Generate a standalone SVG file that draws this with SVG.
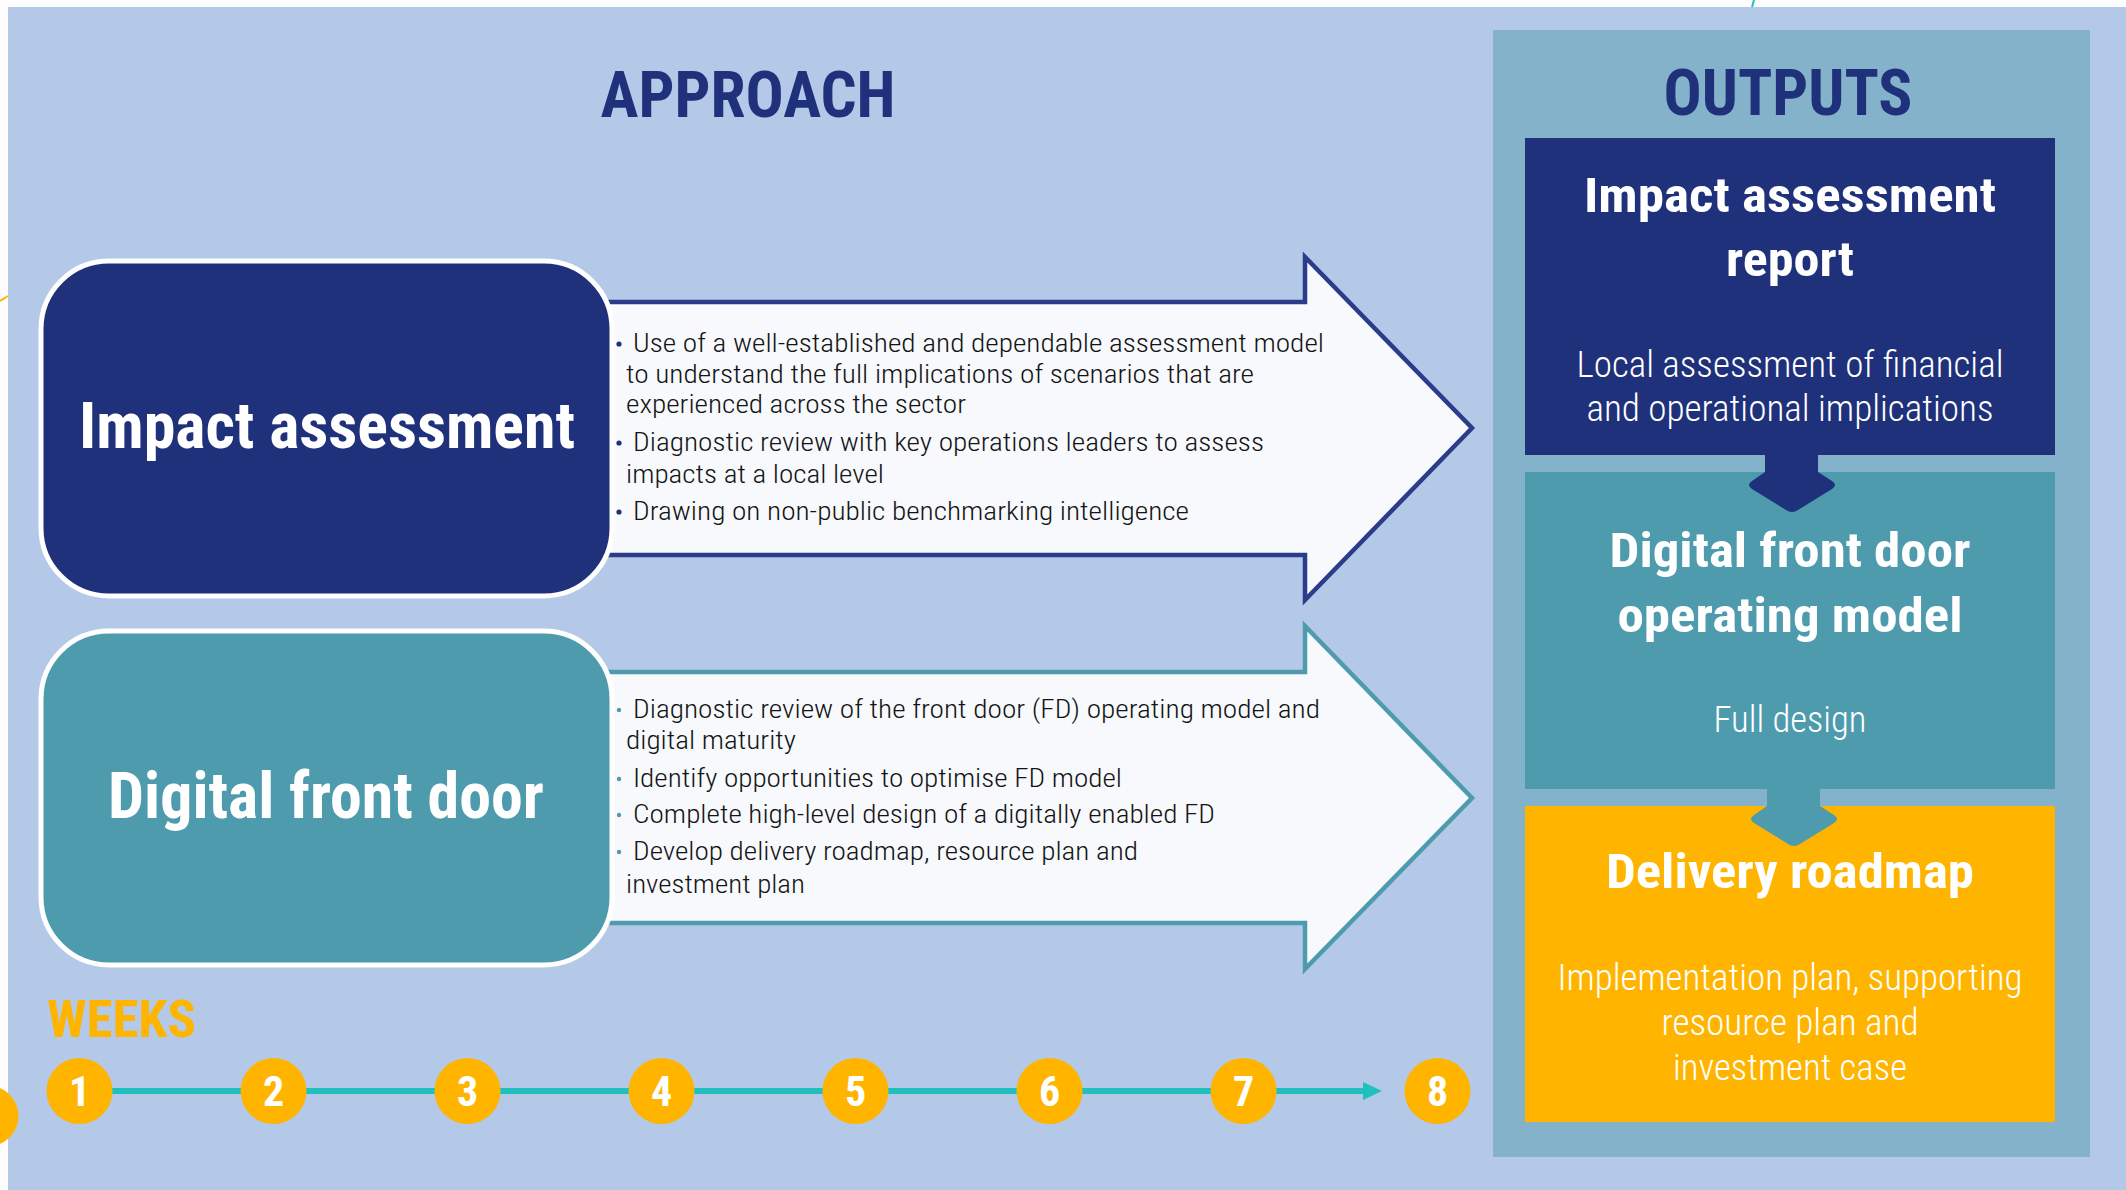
<svg xmlns="http://www.w3.org/2000/svg" width="2126" height="1190" viewBox="0 0 2126 1190">
  <defs>
    <style>
      .t { font-family: "Roboto Condensed", Roboto, "Liberation Sans", sans-serif; }
      .h { font-weight: 700; }
      .l { font-weight: 300; }
      .wht { fill: #FFFFFF; }
      .navy { fill: #1F317A; }
      .teal { fill: #4E9BAE; }
      .gold { fill: #FFB500; }
      .body { fill: #141414; font-size: 26px; }
      .sub { font-size: 36px; }
      .ttl { font-size: 49px; }
      .wk { fill: #FFB500; }
      .num { font-size: 42px; }
    </style>
  </defs>

  <!-- page -->
  <rect x="0" y="0" width="2126" height="1190" fill="#FDFDFE"/>
  <rect x="8" y="7" width="2118" height="1183" fill="#B4C8E7"/>
  <!-- decorative fragments along the page edge -->
  <line x1="0" y1="301" x2="8" y2="296" stroke="#FFB500" stroke-width="2"/>
  <circle cx="-12" cy="1116" r="30.5" fill="#FFB500"/>
  <line x1="1752" y1="7" x2="1754" y2="0" stroke="#20C0BE" stroke-width="2"/>

  <!-- headings -->
  <g id="approach-title">
    <text class="t h" x="748" y="117" font-size="65" fill="#1F317A" text-anchor="middle" textLength="295" lengthAdjust="spacingAndGlyphs">APPROACH</text>
  </g>

  <!-- outputs panel -->
  <g id="outputs-panel">
    <rect x="1493" y="30" width="597" height="1127" fill="#84B2CA"/>
    <text class="t h" x="1788" y="115" font-size="65" fill="#1F317A" text-anchor="middle" textLength="249" lengthAdjust="spacingAndGlyphs">OUTPUTS</text>
  </g>

  <!-- connectors -->
  <g id="connectors">
    <!-- approach arrows -->
    <path id="arrow-impact" d="M590,302 L1305,302 L1305,257 L1472,428 L1305,600 L1305,555 L590,555 Z" fill="#F7F9FD" stroke="#2B3D8A" stroke-width="4.5" stroke-linejoin="miter"/>
    <path id="arrow-front-door" d="M590,672 L1305,672 L1305,626 L1472,798 L1305,969 L1305,923 L590,923 Z" fill="#F7F9FD" stroke="#4E9BAE" stroke-width="4.5" stroke-linejoin="miter"/>
  </g>

  <!-- approach: impact assessment -->
  <g id="node-impact">
    <rect x="41" y="261" width="571" height="335" rx="68" ry="68" fill="#1F317A" stroke="#FFFFFF" stroke-width="5"/>
    <text class="t h wht" x="327" y="448" font-size="64" text-anchor="middle" textLength="496" lengthAdjust="spacingAndGlyphs">Impact assessment</text>
  </g>
  <g id="bullets-impact">
    <circle cx="619" cy="344" r="2.6" fill="#1F317A"/>
    <circle cx="619" cy="443" r="2.6" fill="#1F317A"/>
    <circle cx="619" cy="512" r="2.6" fill="#1F317A"/>
    <text class="t l body" x="633" y="352" textLength="691" lengthAdjust="spacingAndGlyphs">Use of a well-established and dependable assessment model</text>
    <text class="t l body" x="626" y="383" textLength="628" lengthAdjust="spacingAndGlyphs">to understand the full implications of scenarios that are</text>
    <text class="t l body" x="626" y="413" textLength="340" lengthAdjust="spacingAndGlyphs">experienced across the sector</text>
    <text class="t l body" x="633" y="451" textLength="631" lengthAdjust="spacingAndGlyphs">Diagnostic review with key operations leaders to assess</text>
    <text class="t l body" x="626" y="483" textLength="258" lengthAdjust="spacingAndGlyphs">impacts at a local level</text>
    <text class="t l body" x="633" y="520" textLength="556" lengthAdjust="spacingAndGlyphs">Drawing on non-public benchmarking intelligence</text>
  </g>

  <!-- approach: digital front door -->
  <g id="node-front-door">
    <rect x="41" y="631" width="571" height="334" rx="68" ry="68" fill="#4E9BAE" stroke="#FFFFFF" stroke-width="5"/>
    <text class="t h wht" x="326" y="818" font-size="64" text-anchor="middle" textLength="436" lengthAdjust="spacingAndGlyphs">Digital front door</text>
  </g>
  <g id="bullets-front-door">
    <circle cx="619" cy="710" r="2.2" fill="#4E9BAE"/>
    <circle cx="619" cy="779" r="2.2" fill="#4E9BAE"/>
    <circle cx="619" cy="815" r="2.2" fill="#4E9BAE"/>
    <circle cx="619" cy="852" r="2.2" fill="#4E9BAE"/>
    <text class="t l body" x="633" y="718" textLength="687" lengthAdjust="spacingAndGlyphs">Diagnostic review of the front door (FD) operating model and</text>
    <text class="t l body" x="626" y="749" textLength="170" lengthAdjust="spacingAndGlyphs">digital maturity</text>
    <text class="t l body" x="633" y="787" textLength="489" lengthAdjust="spacingAndGlyphs">Identify opportunities to optimise FD model</text>
    <text class="t l body" x="633" y="823" textLength="582" lengthAdjust="spacingAndGlyphs">Complete high-level design of a digitally enabled FD</text>
    <text class="t l body" x="633" y="860" textLength="505" lengthAdjust="spacingAndGlyphs">Develop delivery roadmap, resource plan and</text>
    <text class="t l body" x="626" y="893" textLength="179" lengthAdjust="spacingAndGlyphs">investment plan</text>
  </g>

  <!-- output: impact assessment report -->
  <g id="out-report">
    <rect x="1525" y="138" width="530" height="317" fill="#1F317A"/>
    <text class="t h wht ttl" x="1790" y="212" text-anchor="middle" textLength="412" lengthAdjust="spacingAndGlyphs">Impact assessment</text>
    <text class="t h wht ttl" x="1790" y="276" text-anchor="middle" textLength="128" lengthAdjust="spacingAndGlyphs">report</text>
    <text class="t l wht sub" x="1790" y="377" text-anchor="middle" textLength="427" lengthAdjust="spacingAndGlyphs">Local assessment of financial</text>
    <text class="t l wht sub" x="1790" y="421" text-anchor="middle" textLength="407" lengthAdjust="spacingAndGlyphs">and operational implications</text>
  </g>

  <!-- output: digital front door operating model -->
  <g id="out-operating-model">
    <rect x="1525" y="472" width="530" height="317" fill="#4E9BAE"/>
    <text class="t h wht ttl" x="1790" y="567" text-anchor="middle" textLength="361" lengthAdjust="spacingAndGlyphs">Digital front door</text>
    <text class="t h wht ttl" x="1790" y="632" text-anchor="middle" textLength="345" lengthAdjust="spacingAndGlyphs">operating model</text>
    <text class="t l wht sub" x="1790" y="732" text-anchor="middle" textLength="153" lengthAdjust="spacingAndGlyphs">Full design</text>
  </g>

  <!-- output: delivery roadmap -->
  <g id="out-roadmap">
    <rect x="1525" y="806" width="530" height="316" fill="#FFB500"/>
    <text class="t h wht ttl" x="1790" y="888" text-anchor="middle" textLength="368" lengthAdjust="spacingAndGlyphs">Delivery roadmap</text>
    <text class="t l wht sub" x="1790" y="990" text-anchor="middle" textLength="465" lengthAdjust="spacingAndGlyphs">Implementation plan, supporting</text>
    <text class="t l wht sub" x="1790" y="1035" text-anchor="middle" textLength="257" lengthAdjust="spacingAndGlyphs">resource plan and</text>
    <text class="t l wht sub" x="1790" y="1080" text-anchor="middle" textLength="234" lengthAdjust="spacingAndGlyphs">investment case</text>
  </g>

  <!-- down arrows between the outputs -->
  <g id="output-links">
    <path d="M1765,452 V472 L1752,481 Q1746,485 1752,489 L1786,510 Q1792,514 1798,510 L1832,489 Q1838,485 1832,481 L1818,472 V452 Z" fill="#1F317A"/>
    <path d="M1767,786 V806 L1754,815 Q1748,819 1754,823 L1788,844 Q1794,848 1800,844 L1834,823 Q1840,819 1834,815 L1820,806 V786 Z" fill="#4E9BAE"/>
  </g>

  <!-- timeline -->
  <g id="weeks">
    <text class="t h wk" x="47" y="1037" font-size="52" textLength="149" lengthAdjust="spacingAndGlyphs">WEEKS</text>
    <line x1="110" y1="1091" x2="1366" y2="1091" stroke="#20C0BE" stroke-width="6"/>
    <polygon points="1363,1082 1382,1091 1363,1100" fill="#20C0BE"/>
    <g class="gold">
      <circle cx="79.5" cy="1091" r="33"/>
      <circle cx="273.5" cy="1091" r="33"/>
      <circle cx="467.5" cy="1091" r="33"/>
      <circle cx="661.5" cy="1091" r="33"/>
      <circle cx="855.5" cy="1091" r="33"/>
      <circle cx="1049.5" cy="1091" r="33"/>
      <circle cx="1243.5" cy="1091" r="33"/>
      <circle cx="1437.5" cy="1091" r="33"/>
    </g>
    <g class="t h wht num" text-anchor="middle">
      <text x="79.5" y="1106">1</text>
      <text x="273.5" y="1106">2</text>
      <text x="467.5" y="1106">3</text>
      <text x="661.5" y="1106">4</text>
      <text x="855.5" y="1106">5</text>
      <text x="1049.5" y="1106">6</text>
      <text x="1243.5" y="1106">7</text>
      <text x="1437.5" y="1106">8</text>
    </g>
  </g>
</svg>
